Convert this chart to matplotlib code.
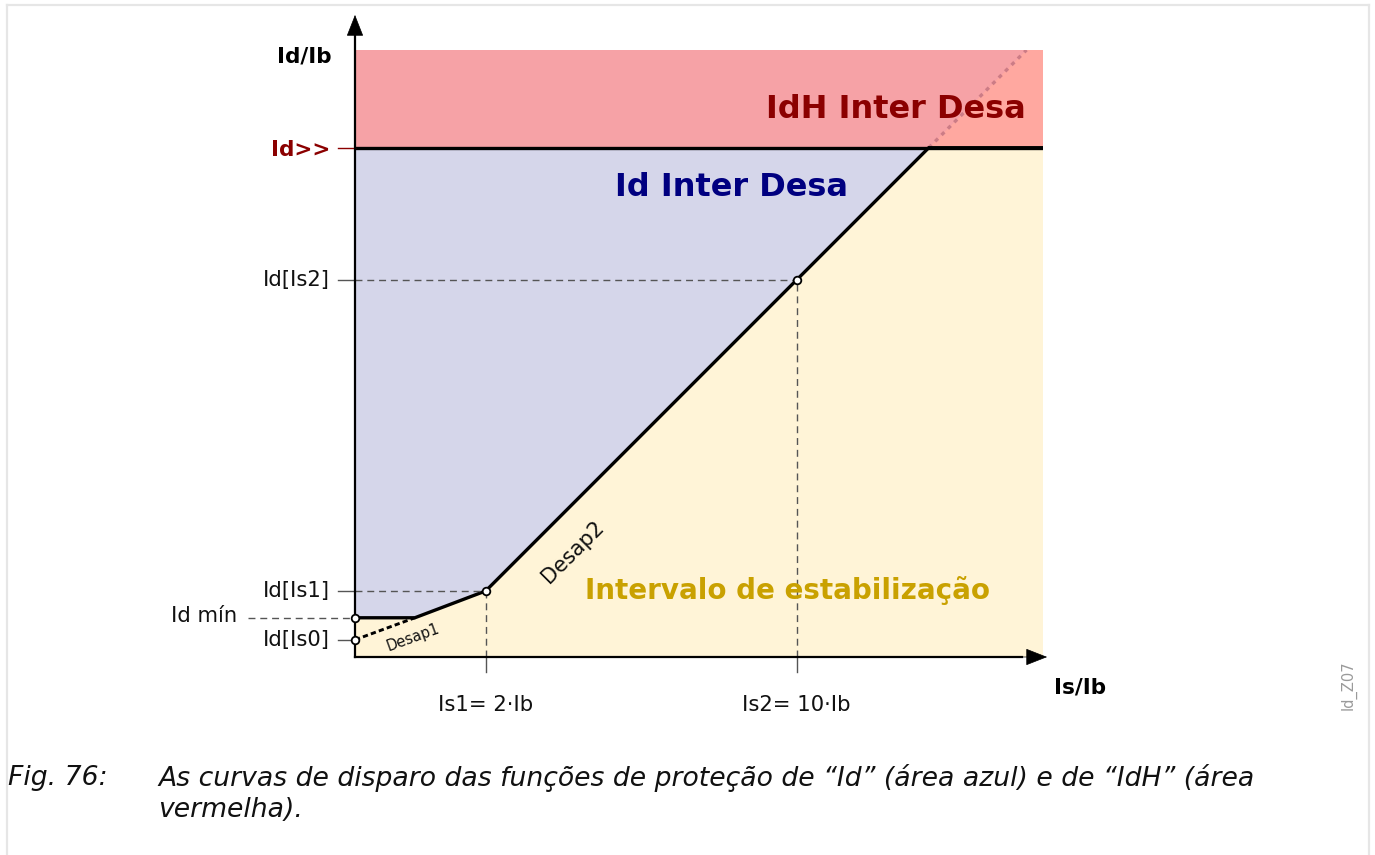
import matplotlib.pyplot as plt
from matplotlib.lines import Line2D

# Schematic diagram units (same scale on both axes, so Desap2 runs at 45 deg)
x_max = 100.0
y_max = 88.2

# characteristic points
is0 = 0.0
knee_x = 8.7          # end of Desap1 on the Id min plateau
is1 = 19.0
is2 = 64.2
hi_x = 83.4           # Desap2 meets Id>>
hi_top_x = 97.6       # dotted extension reaches top of red band

id_is0 = 2.5
id_min = 5.7
id_is1 = 9.6
id_is2 = 54.8
id_hi = 74.0

curve_x = [is0, knee_x, is1, is2, hi_x, x_max]
curve_y = [id_min, id_min, id_is1, id_is2, id_hi, id_hi]

y_labels = ["Id[Is2]", "Id[Is1]", "Id[Is0]"]
y_label_vals = [id_is2, id_is1, id_is0]
x_labels = ["Is1= 2·Ib", "Is2= 10·Ib"]
x_label_vals = [is1, is2]

caption_tag = "Fig. 76:"
caption_lines = ["As curvas de disparo das funções de proteção de \u201cId\u201d (área azul) e de \u201cIdH\u201d (área",
                 "vermelha)."]

# colours
c_blue = "#D5D6EA"
c_yellow = "#FFF4D7"
c_red = "#F6A2A6"
c_red2 = "#FFA8A0"
c_dark_red = "#8B0000"
c_navy = "#000080"
c_gold = "#C9A100"
c_guide = "#555555"

W, H = 1375, 855
fig = plt.figure(figsize=(W / 100, H / 100), dpi=100)
ax = fig.add_axes([355 / W, (H - 657) / H, 688 / W, 607 / H])
ax.set_xlim(0, x_max)
ax.set_ylim(0, y_max)
ax.axis("off")

# areas
ax.fill([0, 0, x_max, x_max], [id_hi, y_max, y_max, id_hi], color=c_red, lw=0)
ax.fill([hi_x, hi_top_x, x_max, x_max], [id_hi, y_max, y_max, id_hi], color=c_red2, lw=0)
ax.fill(curve_x[:5] + [0], curve_y[:5] + [id_hi], color=c_blue, lw=0)
ax.fill([0] + curve_x + [x_max], [0] + curve_y + [0], color=c_yellow, lw=0)

# dotted extension of Desap2 into the IdH area
ax.plot([hi_x, hi_top_x], [id_hi, y_max], color="#CC7C86", lw=2.4,
        ls=(0, (1.2, 1.5)))

# Id>> threshold and tripping curve
ax.plot([0, x_max], [id_hi, id_hi], color="black", lw=2.4)
ax.plot(curve_x, curve_y, color="black", lw=2.4, solid_joinstyle="miter")
ax.plot([is0, knee_x], [id_is0, id_min], color="black", lw=2.1, ls=(0, (1.8, 1.1)))

# guide lines
tick_len = 2.5
for v in y_label_vals:
    ax.plot([-tick_len, 0], [v, v], color=c_guide, lw=1, clip_on=False)
for xv, yv in zip([is1, is2], [id_is1, id_is2]):
    ax.plot([0, xv], [yv, yv], color=c_guide, lw=1, ls=(0, (5, 3.5)))
    ax.plot([xv, xv], [0, yv], color=c_guide, lw=1, ls=(0, (5, 3.5)))
    ax.plot([xv, xv], [-2.2, 0], color=c_guide, lw=1, clip_on=False)
ax.plot([-15.6, 0], [id_min, id_min], color=c_guide, lw=1, ls=(0, (5, 3.5)), clip_on=False)
ax.plot([-tick_len, 0], [id_hi, id_hi], color=c_dark_red, lw=1, clip_on=False)

# axes with arrow heads
ax.plot([0, 0], [0, 90.5], color="black", lw=1.6, clip_on=False)
ax.plot([0, 97.0], [0, 0], color="black", lw=1.6, clip_on=False)
ax.annotate("", xy=(0, 93.3), xytext=(0, 89.5), annotation_clip=False,
            arrowprops=dict(arrowstyle="-|>,head_length=1.4,head_width=0.55",
                            color="black", lw=0.5, shrinkA=0, shrinkB=0))
ax.annotate("", xy=(100.6, 0), xytext=(96.5, 0), annotation_clip=False,
            arrowprops=dict(arrowstyle="-|>,head_length=1.4,head_width=0.55",
                            color="black", lw=0.5, shrinkA=0, shrinkB=0))

# markers
ax.plot([0, 0, is1, is2], [id_min, id_is0, id_is1, id_is2], ls="none", marker="o",
        ms=5.5, mfc="white", mec="black", mew=1.3, clip_on=False, zorder=5)

# labels
fs = 15.2
for lab, v in zip(y_labels, y_label_vals):
    ax.text(-3.6, v, lab, ha="right", va="center", fontsize=fs, color="#111111")
ax.text(-17.2, id_min + 0.3, "Id mín", ha="right", va="center", fontsize=fs, color="#111111")
ax.text(-3.6, id_hi - 0.3, "Id>>", ha="right", va="center", fontsize=15.5,
        fontweight="bold", color=c_dark_red)
for lab, v in zip(x_labels, x_label_vals):
    ax.text(v, -7.0, lab, ha="center", va="center", fontsize=fs, color="#111111")
ax.text(-7.3, 87.2, "Id/Ib", ha="center", va="center", fontsize=15.5, fontweight="bold")
ax.text(105.4, -4.5, "Is/Ib", ha="center", va="center", fontsize=15.5, fontweight="bold")

ax.text(97.5, 79.6, "IdH Inter Desa", ha="right", va="center", fontsize=23,
        fontweight="bold", color=c_dark_red)
ax.text(54.7, 68.2, "Id Inter Desa", ha="center", va="center", fontsize=23,
        fontweight="bold", color=c_navy)
ax.text(62.8, 9.6, "Intervalo de estabilização", ha="center", va="center", fontsize=20,
        fontweight="bold", color=c_gold)
ax.text(31.7, 15.3, "Desap2", ha="center", va="center", fontsize=15, rotation=45,
        rotation_mode="anchor", color="#111111")
ax.text(8.4, 2.9, "Desap1", ha="center", va="center", fontsize=10.5, rotation=20,
        rotation_mode="anchor", color="#111111")

fig.text(1349 / W, 1 - 685 / H, "Id_Z07", rotation=90, ha="center", va="center",
         fontsize=10.5, color="#9A9A9A")

# caption
cap_fs = 19.2
fig.text(8 / W, 1 - 778 / H, caption_tag, ha="left", va="center", fontsize=cap_fs,
         style="italic", color="#111111")
for i, line in enumerate(caption_lines):
    fig.text(158 / W, 1 - (778 + 32 * i) / H, line, ha="left", va="center",
             fontsize=cap_fs, style="italic", color="#111111")

# light page frame
frame = dict(color="#E6E6E6", lw=1.6)
fig.add_artist(Line2D([7 / W, 7 / W], [0, 1 - 5 / H], **frame))
fig.add_artist(Line2D([7 / W, 1369 / W], [1 - 5 / H, 1 - 5 / H], **frame))
fig.add_artist(Line2D([1369 / W, 1369 / W], [0, 1 - 5 / H], **frame))

fig.savefig("out.png", dpi=100, facecolor="white")
